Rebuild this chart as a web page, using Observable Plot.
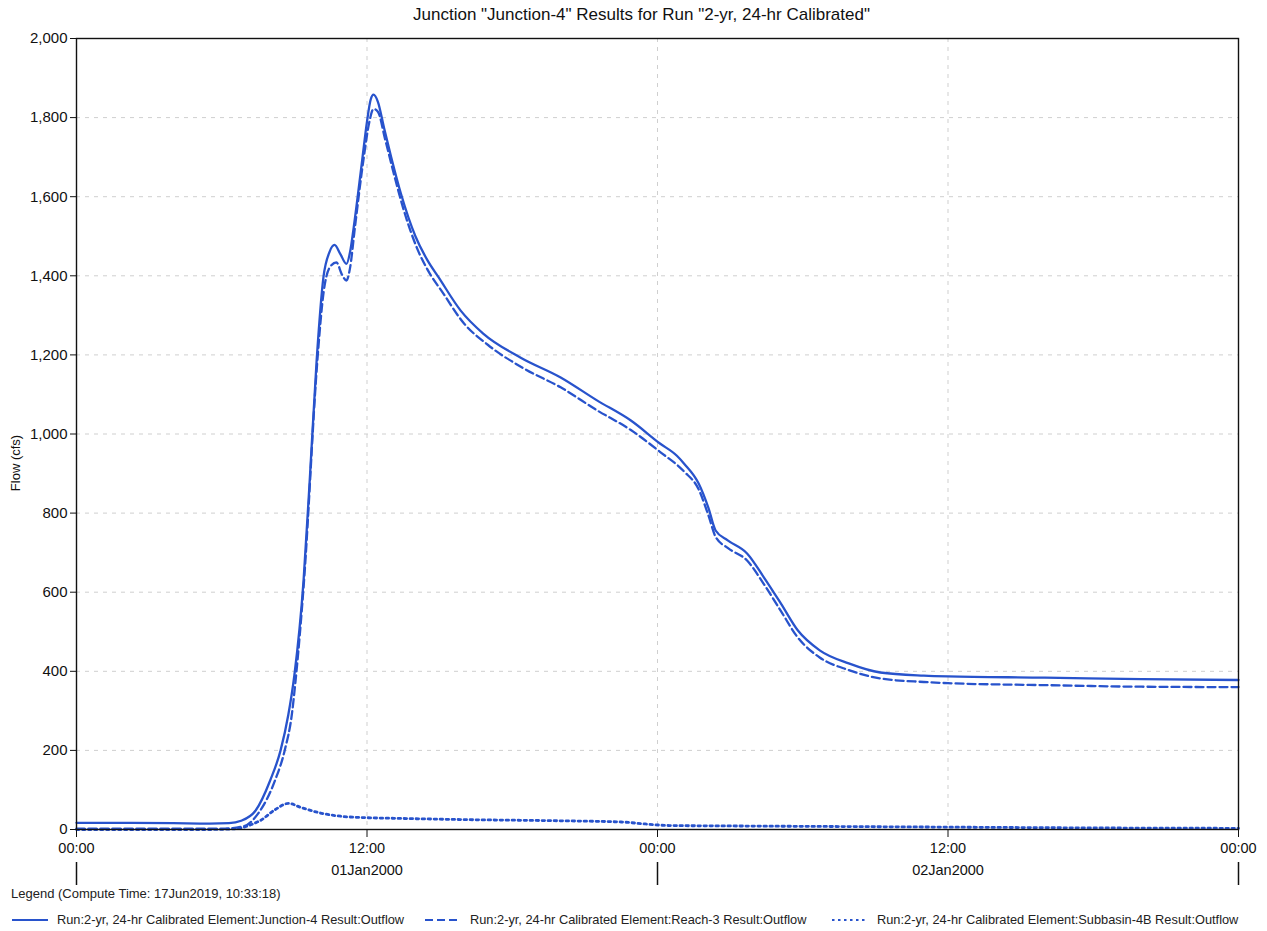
<!DOCTYPE html>
<html>
<head>
<meta charset="utf-8">
<script src="https://cdn.jsdelivr.net/npm/d3@7"></script>
<script src="https://cdn.jsdelivr.net/npm/@observablehq/plot@0.6"></script>
<style>
  html, body { margin: 0; padding: 0; background: #fff; }
  body { width: 1267px; height: 931px; position: relative; overflow: hidden; font-family: "Liberation Sans", Arial, sans-serif; }
  #title { position: absolute; left: 0; top: 0; width: 1267px; height: 28px; line-height: 30px; text-align: center; font-size: 17px; color: #111; padding-left: 16px; box-sizing: border-box; }
  #chart { position: absolute; left: 0; top: 28px; }
  #ylabel { position: absolute; left: 15px; top: 463px; font-size: 13px; color: #111; transform: translate(-50%, -50%) rotate(-90deg); white-space: nowrap; }
  #legendTitle { position: absolute; left: 11px; top: 886px; font-size: 13px; color: #222; }
  .leg { position: absolute; top: 912px; font-size: 12.8px; color: #222; display: flex; align-items: center; white-space: nowrap; }
  .leg svg { margin-right: 9px; }
</style>
</head>
<body>
<div id="title">Junction "Junction-4" Results for Run "2-yr, 24-hr Calibrated"</div>
<div id="chart"></div>
<div id="ylabel">Flow (cfs)</div>
<div id="legendTitle">Legend (Compute Time: 17Jun2019, 10:33:18)</div>
<div id="legend"></div>
<script>
// ---- data (hours since 01Jan2000 00:00, flow in cfs) ----
const junctionHours = [0, 2, 4, 5.5, 6.3, 6.8, 7.4, 8.0, 8.43, 8.75, 9.0, 9.38, 9.65, 9.92, 10.2, 10.45, 10.66, 10.9, 11.15, 11.3, 11.45, 11.8, 12.0, 12.15, 12.27, 12.45, 12.7, 13.0, 13.4, 14.0, 14.5, 14.96, 15.87, 16.8, 18.35, 20.0, 21.5, 22.9, 24.1, 24.8, 25.1, 25.7, 26.1, 26.4, 26.9, 27.7, 28.4, 29.1, 29.8, 30.7, 31.9, 33.2, 35.0, 36, 40, 44, 48];
const junctionFlow  = [17, 17, 16, 15, 16, 22, 48, 124, 200, 290, 390, 630, 900, 1186, 1396, 1460, 1478, 1455, 1430, 1460, 1522, 1692, 1790, 1845, 1858, 1840, 1775, 1700, 1608, 1500, 1439, 1396, 1312, 1254, 1193, 1143, 1085, 1034, 976, 945, 925, 875, 814, 756, 731, 698, 637, 571, 503, 453, 420, 397, 389, 387, 384, 380, 378];

const reachHours = [0, 4, 6.0, 6.9, 7.5, 8.2, 8.6, 8.9, 9.05, 9.4, 9.95, 10.2, 10.45, 10.74, 10.95, 11.15, 11.3, 11.5, 11.85, 12.1, 12.27, 12.45, 12.75, 13.1, 13.5, 14.1, 14.6, 15.1, 16.0, 17.0, 18.5, 20.0, 21.5, 22.9, 24.1, 25.1, 25.7, 26.1, 26.4, 26.9, 27.7, 28.4, 29.1, 29.8, 30.7, 31.9, 33.2, 35.0, 36, 40, 44, 48];
const reachFlow  = [2, 2, 2, 8, 40, 124, 200, 293, 377, 630, 1186, 1355, 1420, 1434, 1405, 1388, 1420, 1522, 1692, 1790, 1822, 1815, 1745, 1660, 1570, 1465, 1405, 1360, 1280, 1225, 1165, 1118, 1060, 1010, 955, 905, 860, 795, 740, 712, 680, 620, 552, 485, 435, 403, 382, 373, 370, 365, 361, 360];

const subbasinHours = [0, 5.5, 6.6, 7.2, 7.6, 8.2, 8.76, 9.3, 10.2, 11.0, 11.9, 13.4, 16, 20, 22.5, 23.5, 24.5, 27, 30, 36, 42, 48];
const subbasinFlow  = [0, 0, 2, 12, 23, 50, 66, 55, 40, 33, 30, 28, 25, 22, 19, 14, 10, 9, 8, 6, 4, 3];

const yTicks = [0, 200, 400, 600, 800, 1000, 1200, 1400, 1600, 1800, 2000];
const xTicks = [0, 12, 24, 36, 48];
const xTickLabels = ["00:00", "12:00", "00:00", "12:00", "00:00"];
const dayHours = [12, 36];
const dayLabels = ["01Jan2000", "02Jan2000"];
const dayBoundaries = [0, 24, 48];
const seriesNames = [
  "Run:2-yr, 24-hr Calibrated Element:Junction-4 Result:Outflow",
  "Run:2-yr, 24-hr Calibrated Element:Reach-3 Result:Outflow",
  "Run:2-yr, 24-hr Calibrated Element:Subbasin-4B Result:Outflow"
];

const blue = "#2853cc";
const toRows = (hs, vs) => hs.map((h, i) => ({h, v: vs[i]}));
const junction = toRows(junctionHours, junctionFlow);
const reach = toRows(reachHours, reachFlow);
const subbasin = toRows(subbasinHours, subbasinFlow);

const chart = Plot.plot({
  width: 1267,
  height: 862,
  marginLeft: 76,
  marginRight: 29,
  marginTop: 10,
  marginBottom: 61,
  style: {fontFamily: "Liberation Sans, Arial, sans-serif", fontSize: "15px", color: "#111", background: "white"},
  x: {domain: [0, 48]},
  y: {domain: [0, 2000]},
  marks: [
    Plot.gridY(yTicks.slice(1, -1), {stroke: "#cfcfcf", strokeOpacity: 1, strokeDasharray: "4,5"}),
    Plot.gridX([12, 24, 36], {stroke: "#cfcfcf", strokeOpacity: 1, strokeDasharray: "4,5"}),
    Plot.line(subbasin, {x: "h", y: "v", stroke: blue, strokeWidth: 2.8, strokeDasharray: "2.5,3.5", curve: "monotone-x"}),
    Plot.line(reach, {x: "h", y: "v", stroke: blue, strokeWidth: 2.3, strokeDasharray: "8,4", curve: "monotone-x"}),
    Plot.line(junction, {x: "h", y: "v", stroke: blue, strokeWidth: 2.3, curve: "monotone-x"}),
    Plot.frame({stroke: "#111", strokeWidth: 1.4}),
    Plot.axisY({ticks: yTicks, tickFormat: d3.format(","), tickSize: 6, tickPadding: 3, label: null, fontSize: 15}),
    Plot.axisX({ticks: xTicks, tickFormat: d => xTickLabels[xTicks.indexOf(d)], tickSize: 8, tickPadding: 5, label: null, fontSize: 14.5}),
    Plot.text(dayHours, {x: d => d, text: (d, i) => dayLabels[i], frameAnchor: "bottom", dy: 45, fontSize: 14.5, fill: "#111"}),
    Plot.ruleX(dayBoundaries, {stroke: "#111", strokeWidth: 1.5, insetBottom: 768, dy: 824})
  ]
});
document.getElementById("chart").appendChild(chart);

// legend
const legend = document.getElementById("legend");
const dashes = [null, "8,4", "2.5,3.5"];
const lefts = [12, 425, 832];
seriesNames.forEach((name, i) => {
  const div = document.createElement("div");
  div.className = "leg";
  div.style.left = lefts[i] + "px";
  div.innerHTML = `<svg width="36" height="6"><line x1="0" x2="36" y1="3" y2="3" stroke="${blue}" stroke-width="2" ${dashes[i] ? `stroke-dasharray="${dashes[i]}"` : ""}/></svg><span>${name}</span>`;
  legend.appendChild(div);
});
</script>
</body>
</html>
